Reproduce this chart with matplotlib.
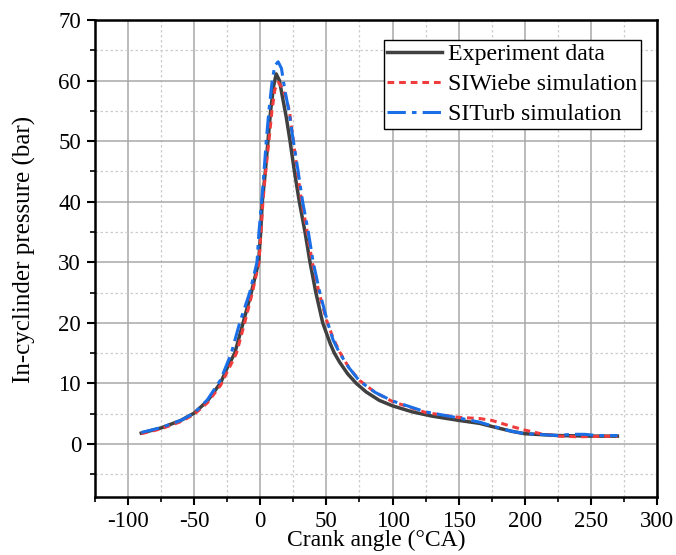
import matplotlib
matplotlib.use("Agg")
import matplotlib.pyplot as plt
from matplotlib.ticker import MultipleLocator

plt.rcParams['font.family'] = ['Liberation Serif', 'DejaVu Serif']
plt.rcParams['axes.unicode_minus'] = False

# crank angle (deg CA) / in-cylinder pressure (bar)
exp_ca = [-90, -75, -60, -50, -40, -30, -25, -19.3, -13, -6.8, -1.3, 0.3, 1.5, 3.8,
          5.8, 7.8, 10, 12, 14.5, 17, 19.6, 22.5, 25.8, 29.5, 33.8, 37.6, 42, 47.2,
          50, 53, 56, 60, 66, 72.6, 80, 90, 100, 115, 130, 150, 166, 175, 190, 200,
          225, 250, 270]
exp_p = [1.8, 2.65, 3.9, 5.1, 7.1, 10.1, 12.6, 15, 20, 25, 30, 35, 40, 45,
         50, 55, 59, 61.1, 60, 57, 54, 50, 45, 40, 35, 30, 25, 20,
         18.3, 16.5, 15, 13.5, 11.6, 10, 8.6, 7.2, 6.3, 5.3, 4.6, 3.9, 3.4, 2.9, 2.1, 1.7,
         1.4, 1.3, 1.3]

wiebe_ca = [-90, -75, -60, -50, -40, -30, -18, -11.8, -6, -1, 0.5, 2, 4, 6.5,
            8.8, 11, 13.5, 16, 19, 22, 25, 28, 31.3, 35.5, 39.3, 44.4, 50, 55,
            60, 67, 75, 87, 100, 125, 140, 150, 166, 175, 190, 200, 212, 225, 240, 270]
wiebe_p = [1.7, 2.5, 3.7, 4.9, 6.8, 9.7, 15, 20, 25, 30, 35, 40, 45, 50,
           55, 58.5, 59.7, 59, 57.5, 55, 50, 45, 40, 35, 30, 25, 20.5, 17.5,
           15.2, 12.6, 10.5, 8.5, 7.0, 5.2, 4.7, 4.4, 4.2, 3.9, 2.9, 2.3, 1.7, 1.3, 1.2, 1.3]

turb_ca = [-90, -75, -60, -50, -40, -30, -21.9, -15.6, -8, -2.5, -1, 1, 2.8, 4.5,
           6.5, 9, 11, 13.5, 16, 18.5, 21.6, 25, 28.6, 32, 36.3, 40, 45, 51,
           55, 60, 67, 75, 87, 100, 125, 150, 166, 175, 190, 200, 225, 235, 245, 255, 270]
turb_p = [1.9, 2.7, 3.9, 5.1, 7.3, 10.6, 15, 20, 25, 30, 35, 40, 45, 50,
          55, 60, 62.5, 63.1, 62, 58.5, 55, 50, 45, 40, 35, 30, 25, 20,
          17.2, 15, 12.6, 10.4, 8.5, 7.1, 5.3, 4.3, 3.6, 3.0, 2.1, 1.7, 1.4, 1.6, 1.6, 1.4, 1.4]

fig = plt.figure(figsize=(6.76, 5.55), dpi=100)
ax = fig.add_axes([0.1405, 0.1045, 0.8315, 0.8595])

ax.plot(exp_ca, exp_p, color='#404040', lw=2.5, ls='-', label='Experiment data', zorder=3)
ax.plot(wiebe_ca, wiebe_p, color='#f03c3c', lw=2.2, ls=(0, (2.2, 1.6)),
        label='SIWiebe simulation', zorder=4)
ax.plot(turb_ca, turb_p, color='#1a6ee6', lw=2.2, ls=(0, (6, 2, 1.5, 2)),
        label='SITurb simulation', zorder=5)

ax.set_xlim(-125, 300)
ax.set_ylim(-8.75, 70)
ax.xaxis.set_major_locator(MultipleLocator(50))
ax.xaxis.set_minor_locator(MultipleLocator(25))
ax.yaxis.set_major_locator(MultipleLocator(10))
ax.yaxis.set_minor_locator(MultipleLocator(5))

ax.grid(which='major', color='#a8a8a8', lw=1.1, ls='-', zorder=0)
ax.grid(which='minor', color='#cccccc', lw=0.9, ls=(0, (2, 2)), zorder=0)
ax.set_axisbelow(True)

for s in ax.spines.values():
    s.set_linewidth(1.8)
ax.tick_params(which='major', direction='out', length=6, width=1.5, labelsize=16.5,
               top=False, right=False, pad=4)
ax.tick_params(which='minor', direction='out', length=3.5, width=1.2,
               top=False, right=False)

ax.set_xlabel('Crank angle (°CA)', fontsize=17, va='center')
ax.xaxis.set_label_coords(0.5, -0.092)
ax.set_ylabel('In-cyclinder pressure (bar)', fontsize=18, va='center')
ax.yaxis.set_label_coords(-0.1246, 0.518)

leg = ax.legend(loc='upper right', bbox_to_anchor=(0.9715, 0.958), fontsize=17.2,
                frameon=True, fancybox=False, edgecolor='black', framealpha=1,
                borderpad=0.15, handlelength=2.3, handletextpad=0.25, labelspacing=0.35,
                borderaxespad=0)
leg.get_frame().set_linewidth(1.0)

fig.savefig('out.png', dpi=100)
